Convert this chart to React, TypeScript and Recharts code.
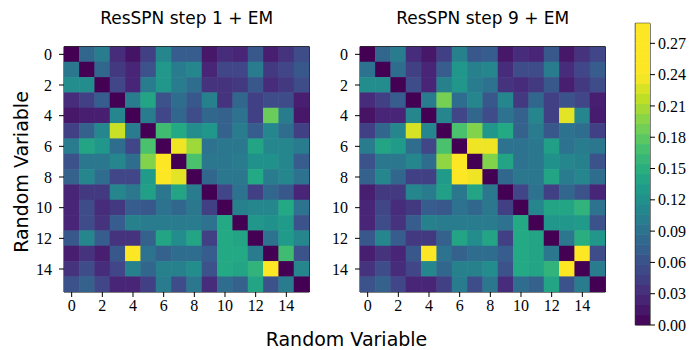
import React from 'react';
import { ScatterChart, Scatter, XAxis, YAxis, ReferenceArea } from 'recharts';

// ---------- data ----------
const variableTicks = [0, 2, 4, 6, 8, 10, 12, 14];
const titles = ['ResSPN step 1 + EM', 'ResSPN step 9 + EM'];
const axisLabel = 'Random Variable';
const colorbarTicks = [0, 0.03, 0.06, 0.09, 0.12, 0.15, 0.18, 0.21, 0.24, 0.27];
const colorbarMax = 0.2892;
const colorbarBandCount = 30;
const colorScaleMax = 0.24;

const step1Rows = [
  [0, .08, .10, .03, .013, .045, .11, .07, .07, .015, .03, .025, .065, .02, .035, .055],
  [.095, 0, .08, .04, .025, .06, .127, .10, .11, .025, .05, .05, .10, .04, .05, .065],
  [.115, .115, 0, .05, .025, .10, .125, .10, .085, .035, .035, .04, .065, .03, .04, .055],
  [.03, .045, .07, 0, .10, .14, .06, .085, .065, .105, .035, .08, .045, .055, .055, .02],
  [.015, .02, .02, .11, 0, .10, .05, .08, .055, .08, .075, .09, .045, .185, .10, .015],
  [.045, .075, .11, .22, .10, 0, .165, .145, .115, .125, .075, .10, .07, .11, .085, .045],
  [.10, .14, .125, .085, .05, .17, 0, .235, .205, .09, .095, .095, .14, .11, .11, .10],
  [.06, .095, .095, .11, .085, .195, .24, 0, .17, .095, .095, .10, .12, .12, .11, .07],
  [.075, .11, .085, .05, .05, .13, .25, .23, 0, .08, .095, .095, .145, .10, .11, .09],
  [.025, .04, .04, .11, .095, .135, .095, .14, .10, 0, .05, .09, .045, .08, .065, .025],
  [.025, .055, .03, .04, .07, .065, .09, .08, .095, .045, 0, .105, .11, .11, .145, .09],
  [.025, .055, .035, .07, .105, .10, .10, .10, .10, .09, .145, 0, .125, .12, .13, .06],
  [.065, .11, .07, .035, .035, .075, .14, .115, .14, .045, .145, .14, 0, .09, .13, .11],
  [.02, .035, .02, .065, .24, .09, .075, .085, .085, .07, .145, .145, .10, 0, .165, .06],
  [.035, .055, .03, .05, .105, .08, .105, .105, .115, .06, .145, .14, .155, .25, 0, .11],
  [.06, .075, .05, .025, .025, .045, .10, .055, .095, .03, .085, .075, .14, .06, .10, 0],
];

const step9Rows = [
  [0, .08, .10, .03, .015, .045, .105, .065, .07, .015, .03, .025, .065, .015, .035, .05],
  [.09, 0, .085, .045, .025, .07, .125, .105, .11, .03, .055, .055, .10, .03, .05, .07],
  [.115, .115, 0, .055, .025, .105, .125, .10, .09, .035, .03, .04, .065, .02, .04, .055],
  [.03, .045, .07, 0, .10, .19, .085, .11, .065, .11, .04, .08, .045, .06, .05, .02],
  [.012, .025, .025, .11, 0, .11, .05, .08, .055, .09, .075, .11, .045, .23, .11, .018],
  [.045, .08, .11, .225, .11, 0, .17, .195, .125, .145, .075, .10, .065, .09, .085, .045],
  [.10, .14, .13, .085, .05, .17, 0, .235, .235, .09, .09, .095, .135, .09, .10, .095],
  [.06, .095, .095, .11, .085, .20, .24, 0, .195, .14, .09, .095, .12, .11, .105, .06],
  [.075, .11, .08, .045, .045, .13, .25, .235, 0, .08, .095, .095, .14, .10, .11, .085],
  [.02, .04, .04, .11, .10, .135, .095, .14, .095, 0, .05, .09, .045, .08, .06, .025],
  [.025, .05, .03, .04, .07, .065, .09, .08, .095, .045, 0, .11, .14, .14, .155, .09],
  [.025, .055, .035, .07, .105, .10, .10, .10, .10, .09, .145, 0, .125, .125, .13, .06],
  [.065, .11, .07, .04, .04, .075, .14, .115, .14, .045, .145, .14, 0, .095, .15, .125],
  [.02, .035, .025, .065, .24, .09, .075, .085, .085, .07, .145, .14, .095, 0, .24, .055],
  [.035, .055, .03, .05, .11, .08, .105, .105, .115, .06, .145, .14, .155, .25, 0, .10],
  [.06, .075, .05, .025, .025, .045, .10, .055, .095, .03, .085, .075, .14, .06, .10, 0],
];

// ---------- colour ----------
const VIRIDIS = ['#440154', '#482475', '#414487', '#355f8d', '#2a788e', '#21918c', '#22a884', '#44bf70', '#7ad151', '#bddf26', '#fde725'];
function hexToRgb(h: string) {
  return [parseInt(h.slice(1, 3), 16), parseInt(h.slice(3, 5), 16), parseInt(h.slice(5, 7), 16)];
}
function viridis(t: number) {
  const tt = Math.max(0, Math.min(1, t)) * (VIRIDIS.length - 1);
  const i = Math.min(VIRIDIS.length - 2, Math.floor(tt));
  const f = tt - i;
  const a = hexToRgb(VIRIDIS[i]);
  const b = hexToRgb(VIRIDIS[i + 1]);
  const c = a.map((v, k) => Math.round(v + (b[k] - v) * f));
  return `rgb(${c[0]},${c[1]},${c[2]})`;
}

// ---------- layout ----------
const SERIF = '"Liberation Serif", "Times New Roman", serif';
const SANS = '"DejaVu Sans", sans-serif';
const HM_W = 330;
const HM_H = 350;
const PLOT = 245.33;
const CELL = PLOT / 16;
const YAXIS_W = 30;
const XAXIS_H = 30;
const hmMargin = { top: 46.67, left: 64 - YAXIS_W, right: HM_W - 64 - PLOT, bottom: HM_H - 46.67 - PLOT - XAXIS_H };

const tickStyle = { fill: '#000', fontSize: 16, fontFamily: SERIF };

function Heatmap({ rows }: { rows: number[][] }) {
  const data = rows.flatMap((row, r) => row.map((v, c) => ({ x: c, y: r, v })));
  const shape = (p: any) => (
    <rect
      x={p.cx - CELL / 2 - 0.25}
      y={p.cy - CELL / 2 - 0.25}
      width={CELL + 0.5}
      height={CELL + 0.5}
      fill={viridis(p.payload.v / colorScaleMax)}
    />
  );
  return (
    <ScatterChart width={HM_W} height={HM_H} margin={hmMargin}>
      <XAxis
        type="number"
        dataKey="x"
        domain={[-0.5, 15.5]}
        allowDataOverflow
        ticks={variableTicks}
        interval={0}
        height={XAXIS_H}
        axisLine={false}
        tickSize={5}
        tickMargin={3}
        tick={tickStyle}
        tickLine={{ stroke: '#000' }}
      />
      <YAxis
        type="number"
        dataKey="y"
        domain={[-0.5, 15.5]}
        allowDataOverflow
        reversed
        ticks={variableTicks}
        interval={0}
        width={YAXIS_W}
        axisLine={false}
        tickSize={5}
        tickMargin={7}
        tick={tickStyle}
        tickLine={{ stroke: '#000' }}
      />
      <Scatter data={data} isAnimationActive={false} shape={shape} />
      <ReferenceArea x1={-0.5} x2={15.5} y1={-0.5} y2={15.5} fill="none" fillOpacity={0} stroke="#000" strokeWidth={1} ifOverflow="visible" />
    </ScatterChart>
  );
}

const CB_W = 93;
const CB_TOP = 23.3;
const CB_BOTTOM = 25;
const CB_PLOT_H = HM_H - CB_TOP - CB_BOTTOM;
const CB_BAR_W = 14.7;

function Colorbar() {
  const bandSize = colorbarMax / colorbarBandCount;
  const bands = Array.from({ length: colorbarBandCount }, (_, i) => ({ x: 0.5, y: (i + 0.5) * bandSize, v: (i + 0.5) * bandSize }));
  const bandPx = CB_PLOT_H / colorbarBandCount;
  const shape = (p: any) => (
    <rect
      x={p.cx - CB_BAR_W / 2}
      y={p.cy - bandPx / 2 - 0.3}
      width={CB_BAR_W}
      height={bandPx + 0.6}
      fill={viridis(p.payload.v / colorScaleMax)}
    />
  );
  return (
    <ScatterChart width={CB_W} height={HM_H} margin={{ top: CB_TOP, bottom: CB_BOTTOM, left: 35.3, right: CB_W - 35.3 - CB_BAR_W - 40 }}>
      <XAxis type="number" dataKey="x" domain={[0, 1]} hide allowDataOverflow />
      <YAxis
        type="number"
        dataKey="y"
        orientation="right"
        domain={[0, colorbarMax]}
        allowDataOverflow
        ticks={colorbarTicks}
        interval={0}
        width={40}
        axisLine={false}
        tickSize={5}
        tickMargin={3}
        tick={tickStyle}
        tickLine={{ stroke: '#000' }}
        tickFormatter={(v: number) => v.toFixed(2)}
      />
      <Scatter data={bands} isAnimationActive={false} shape={shape} />
      <ReferenceArea x1={0} x2={1} y1={0} y2={colorbarMax} fill="none" fillOpacity={0} stroke="#000" strokeWidth={1} ifOverflow="visible" />
    </ScatterChart>
  );
}

export default function App() {
  return (
    <div style={{ position: 'absolute', left: 0, top: 0, width: 693, height: 350, background: '#fff', overflow: 'hidden' }}>
      <div style={{ position: 'absolute', left: 0, top: 0 }}>
        <Heatmap rows={step1Rows} />
      </div>
      <div style={{ position: 'absolute', left: 296, top: 0 }}>
        <Heatmap rows={step9Rows} />
      </div>
      <div style={{ position: 'absolute', left: 600, top: 0 }}>
        <Colorbar />
      </div>
      <svg width={693} height={350} style={{ position: 'absolute', left: 0, top: 0, pointerEvents: 'none' }}>
        <text x={186.7} y={24} textAnchor="middle" fontFamily={SANS} fontSize={17} fill="#000">{titles[0]}</text>
        <text x={482.7} y={24} textAnchor="middle" fontFamily={SANS} fontSize={17} fill="#000">{titles[1]}</text>
        <text x={346.5} y={346} textAnchor="middle" fontFamily={SANS} fontSize={19} fill="#000">{axisLabel}</text>
        <text x={28} y={172} textAnchor="middle" fontFamily={SANS} fontSize={19} fill="#000" transform="rotate(-90 28 172)">{axisLabel}</text>
      </svg>
    </div>
  );
}
